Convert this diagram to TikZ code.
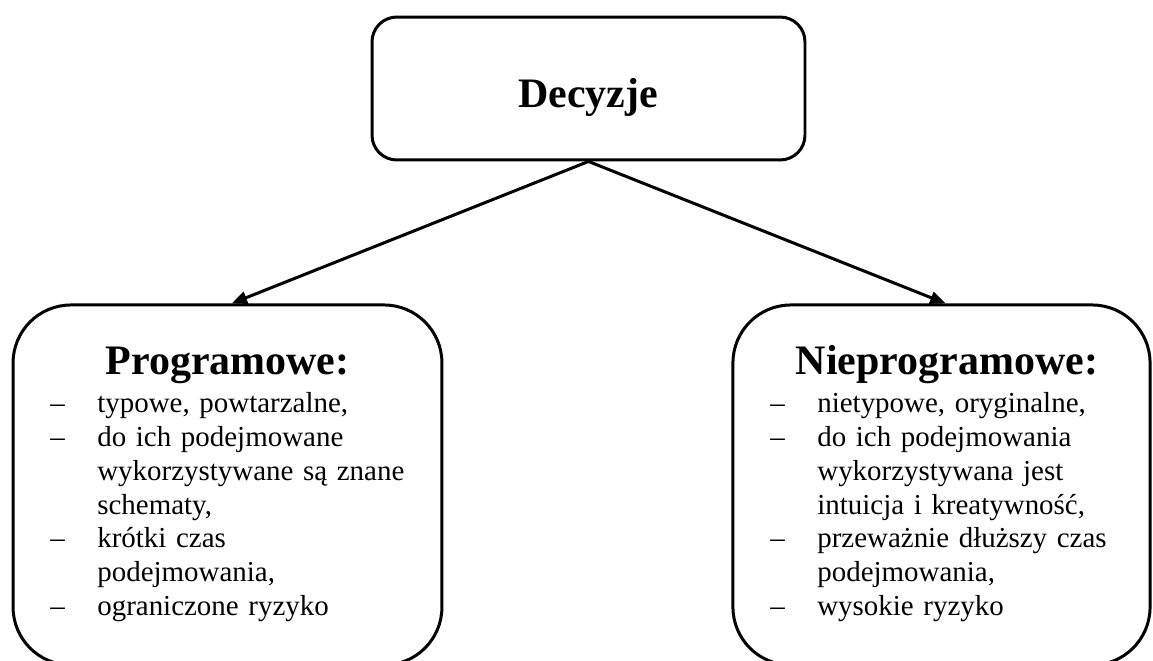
\documentclass[tikz,border=0pt]{standalone}
\usepackage{fontspec}
\setmainfont{Liberation Serif}
\usetikzlibrary{arrows.meta}
\newcommand{\kreska}{\makebox[22.7pt][l]{–}}
\newcommand{\wciecie}{\hspace*{22.7pt}}

\begin{document}
\begin{tikzpicture}[x=0.017cm,y=-0.017cm]
                        \tikzstyle{ramka}=[draw, line width=1.45pt, rounded corners=28pt, minimum height=6.12cm]
                        \tikzstyle{naglowek}=[inner sep=0pt, anchor=base, font=\fontsize{20.3pt}{23pt}\selectfont\bfseries]
                        \tikzstyle{lista}=[inner sep=0pt, anchor=base west, text width=8cm, align=left, font=\fontsize{14pt}{16.3pt}\selectfont]
                        \tikzstyle{strzalka}=[line width=1.45pt, -{Triangle[length=7.5pt,width=6pt]}]
                        \path[use as bounding box, clip] (0,0) rectangle (1153,661);
                        % gorna ramka
                        \node[draw, line width=1.45pt, rounded corners=12pt, minimum width=7.36cm, minimum height=2.43cm] (decyzje) at (588.5,88.5) {};
                        \node[naglowek] (decyzjeTxt) at (588,108) {Decyzje};
                        % dolne ramki
                        \node[ramka, minimum width=7.29cm] (prog) at (227.5,485) {};
                        \node[ramka, minimum width=7.09cm] (nieprog) at (941.5,485) {};
                        \node[naglowek] (progTxt) at (227.5,375) {Programowe:};
                        \node[naglowek] (nieprogTxt) at (947,375) {Nieprogramowe:};
                        \node[lista] (progLista) at (50,413) {%
                            \kreska typowe, powtarzalne,\\
                            \kreska do ich podejmowane\\
                            \wciecie wykorzystywane są znane\\
                            \wciecie schematy,\\
                            \kreska krótki czas\\
                            \wciecie podejmowania,\\
                            \kreska ograniczone ryzyko};
                        \node[lista] (nieprogLista) at (770,413) {%
                            \kreska nietypowe, oryginalne,\\
                            \kreska do ich podejmowania\\
                            \wciecie wykorzystywana jest\\
                            \wciecie intuicja i kreatywność,\\
                            \kreska przeważnie dłuższy czas\\
                            \wciecie podejmowania,\\
                            \kreska wysokie ryzyko};
                        % strzalki
                        \draw[strzalka] (decyzje.south) -- ([xshift=2pt]prog.north);
                        \draw[strzalka] (decyzje.south) -- ([xshift=2pt]nieprog.north);
                    \end{tikzpicture}
\end{document}
